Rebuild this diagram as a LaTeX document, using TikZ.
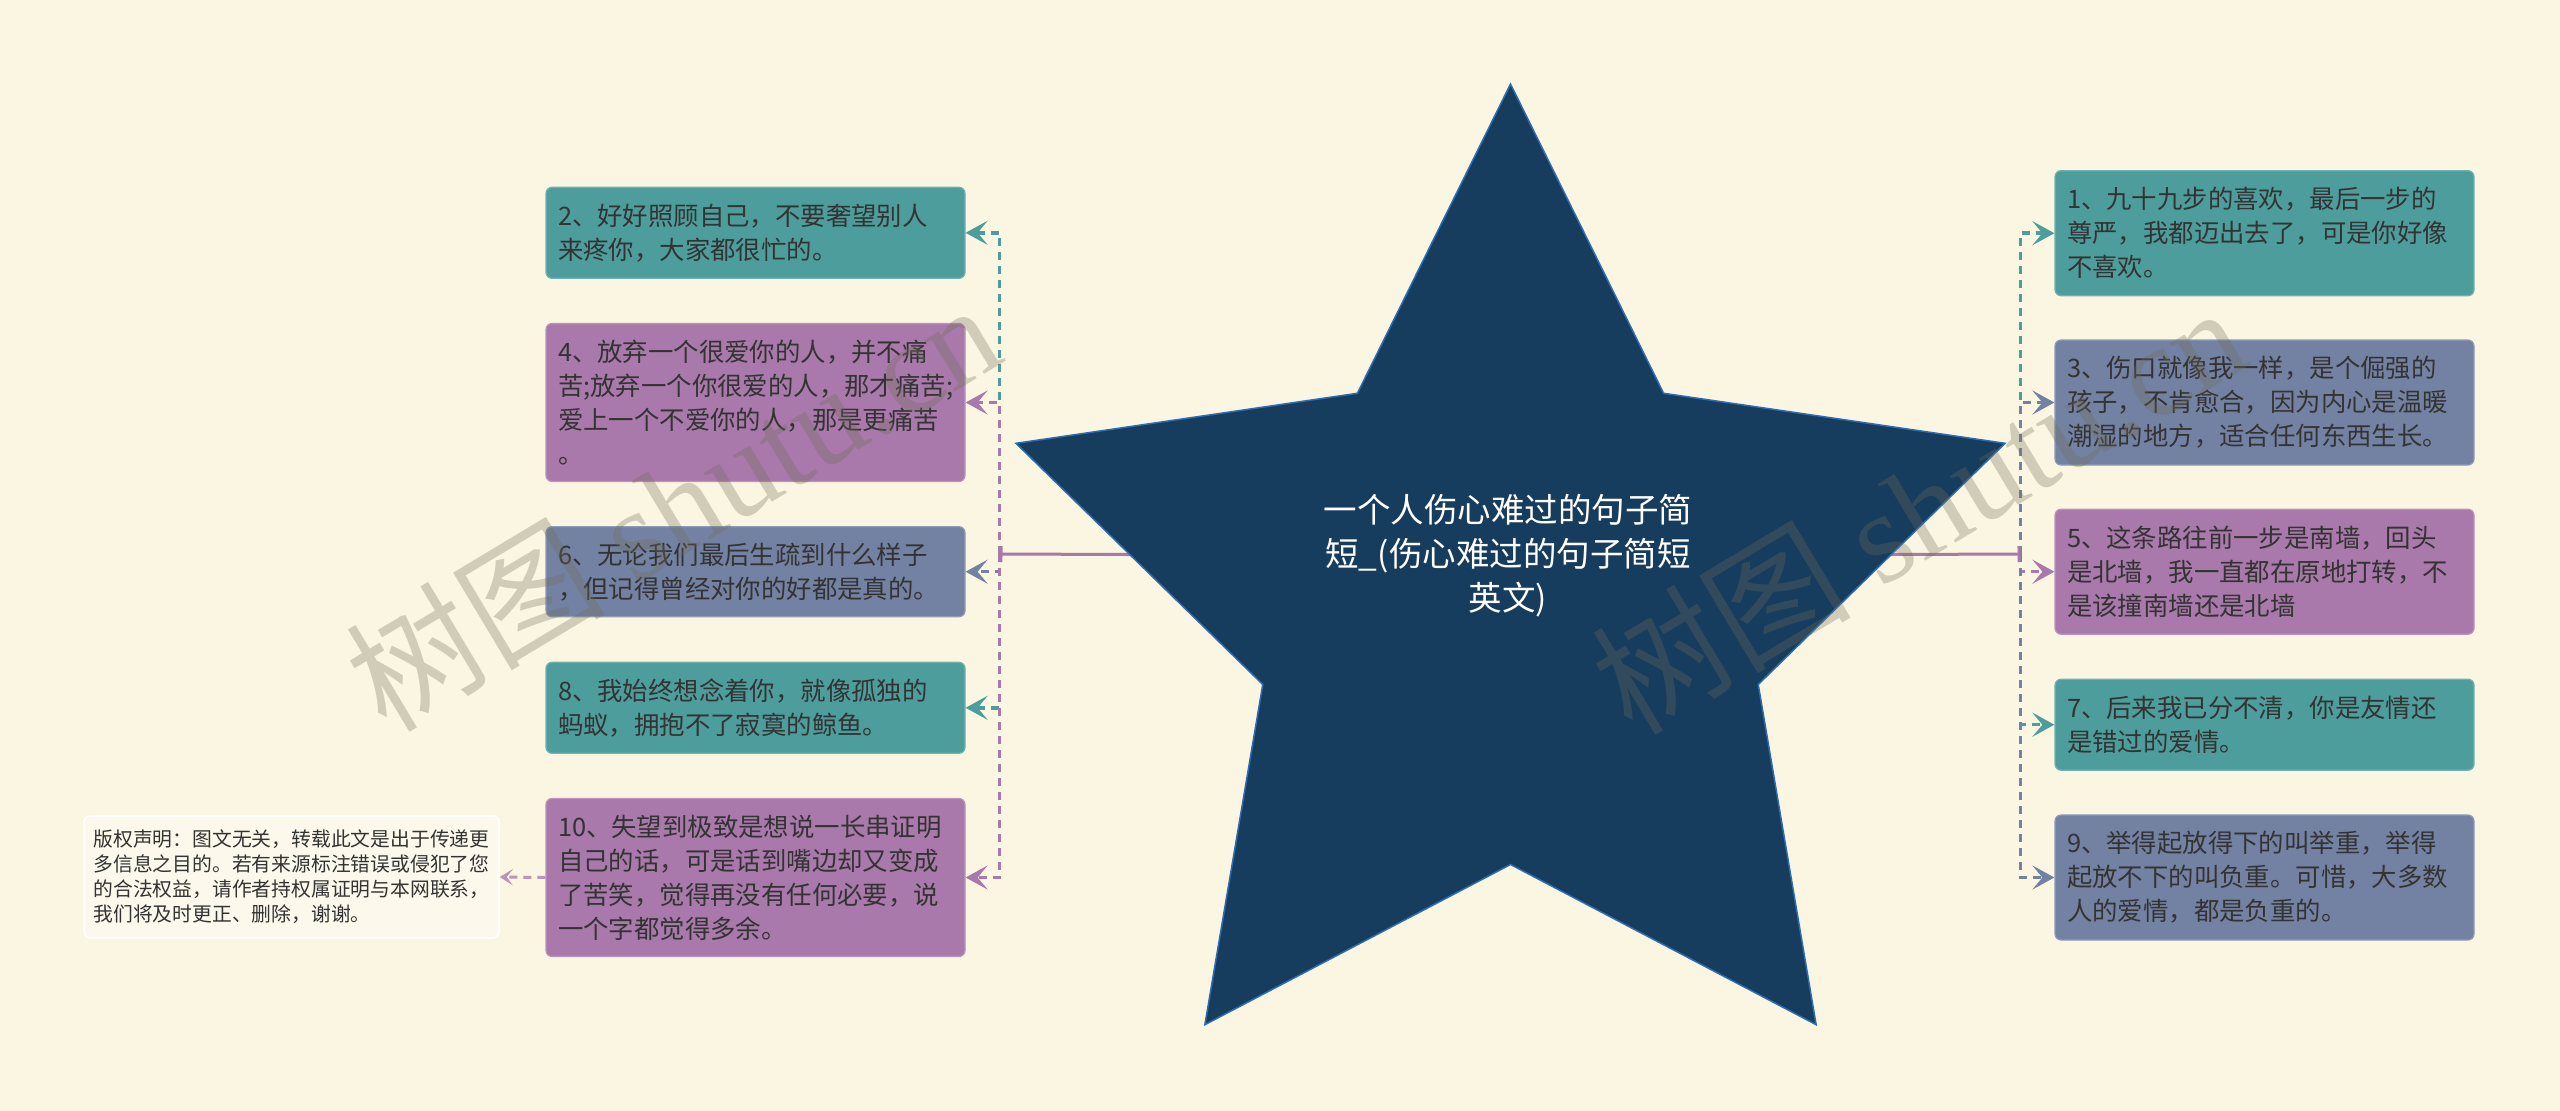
\documentclass[tikz,border=0pt]{standalone}
\usepackage{fontspec}
\setmainfont{Noto Sans CJK SC}
\newfontfamily\wmlatin{Liberation Serif}
\usetikzlibrary{arrows.meta}
\pgfdeclarelayer{back}
\pgfdeclarelayer{bg}
\pgfsetlayers{back,bg,main}
\definecolor{bgc}{HTML}{FAF6E1}
\definecolor{starc}{HTML}{173D5E}
\definecolor{starline}{HTML}{2E6DB4}
\definecolor{tealc}{HTML}{4E9D9D}
\definecolor{purpc}{HTML}{A879AA}
\definecolor{slatec}{HTML}{7382A3}
\definecolor{txtc}{HTML}{333333}
\definecolor{crfill}{HTML}{FCF9EC}
\definecolor{wmc}{HTML}{6F6C58}
\begin{document}
\begin{tikzpicture}[x=1pt,y=-1pt,
  box/.style={rounded corners=6pt, line width=1.2pt, text width=395pt,
    inner xsep=12pt, inner ysep=0pt, align=left,
    font=\fontsize{25.4}{34}\selectfont, text=txtc},
  tealbox/.style={box, fill=tealc, draw=tealc!80!white},
  purpbox/.style={box, fill=purpc, draw=purpc!80!white},
  slatebox/.style={box, fill=slatec, draw=slatec!80!white},
  conn/.style={line width=3.5pt, dash pattern=on 8pt off 6pt,
    -{Stealth[length=22pt,width=24pt,inset=10pt]}},
  mainln/.style={line width=3pt, draw=purpc, -{Bar[width=16pt]}},
  wm/.style={text=wmc, opacity=0.3, rotate=31, font=\fontsize{130}{130}\selectfont}
]
\begin{pgfonlayer}{back}
\fill[bgc] (0,0) rectangle (2560,1111);
\end{pgfonlayer}
\useasboundingbox (0,0) rectangle (2560,1111);

% central star
\filldraw[fill=starc, draw=starline, line width=1.5pt]
  (1510.5,84) -- (1663.6,393.25) -- (2005.05,443.3) -- (1758.25,684.5)
  -- (1816.15,1024.7) -- (1510.5,864.5) -- (1204.85,1024.7) -- (1262.75,684.5)
  -- (1015.95,443.3) -- (1357.4,393.25) -- cycle;
\node[align=center, text=white, font=\fontsize{33.5}{44}\selectfont] (title) at (1508,556)
  {一个人伤心难过的句子简\\短\_(伤心难过的句子简短\\英文)};

% left boxes
\node[tealbox, minimum height=91pt] (b2) at (755.5,232.8)
  {2、好好照顾自己，不要奢望别人\\来疼你，大家都很忙的。};
\node[purpbox, minimum height=158pt] (b4) at (755.5,402.5)
  {4、放弃一个很爱你的人，并不痛\\苦;放弃一个你很爱的人，那才痛苦;\\爱上一个不爱你的人，那是更痛苦\\。};
\node[slatebox, minimum height=90pt] (b6) at (755.5,571.7)
  {6、无论我们最后生疏到什么样子\\，但记得曾经对你的好都是真的。};
\node[tealbox, minimum height=91pt] (b8) at (755.5,707.8)
  {8、我始终想念着你，就像孤独的\\蚂蚁，拥抱不了寂寞的鲸鱼。};
\node[purpbox, minimum height=158pt] (b10) at (755.5,877.5)
  {10、失望到极致是想说一长串证明\\自己的话，可是话到嘴边却又变成\\了苦笑，觉得再没有任何必要，说\\一个字都觉得多余。};

% right boxes
\node[tealbox, minimum height=125pt] (b1) at (2264.5,233.2)
  {1、九十九步的喜欢，最后一步的\\尊严，我都迈出去了，可是你好像\\不喜欢。};
\node[slatebox, minimum height=125pt] (b3) at (2264.5,402.5)
  {3、伤口就像我一样，是个倔强的\\孩子，不肯愈合，因为内心是温暖\\潮湿的地方，适合任何东西生长。};
\node[purpbox, minimum height=125pt] (b5) at (2264.5,571.7)
  {5、这条路往前一步是南墙，回头\\是北墙，我一直都在原地打转，不\\是该撞南墙还是北墙};
\node[tealbox, minimum height=91pt] (b7) at (2264.5,724.7)
  {7、后来我已分不清，你是友情还\\是错过的爱情。};
\node[slatebox, minimum height=125pt] (b9) at (2264.5,877.5)
  {9、举得起放得下的叫举重，举得\\起放不下的叫负重。可惜，大多数\\人的爱情，都是负重的。};

% copyright box
\node[rounded corners=6pt, fill=crfill, draw=white, line width=1.5pt,
  text width=396pt, inner xsep=9.5pt, inner ysep=0pt, minimum height=122pt,
  align=left, text=txtc, font=\fontsize{19.8}{25}\selectfont] (cr) at (291.5,877)
  {版权声明：图文无关，转载此文是出于传递更\\多信息之目的。若有来源标注错误或侵犯了您\\的合法权益，请作者持权属证明与本网联系，\\我们将及时更正、删除，谢谢。};

\coordinate (lbus) at (999.5,554);
\coordinate (rbus) at (2020.5,554);

\begin{pgfonlayer}{bg}
\draw[conn, tealc] (lbus) |- (b2.east);
\draw[conn, purpc] (lbus) |- (b4.east);
\draw[conn, slatec] (lbus) |- (b6.east);
\draw[conn, tealc] (lbus) |- (b8.east);
\draw[conn, purpc] (lbus) |- (b10.east);
\draw[conn, tealc] (rbus) |- (b1.west);
\draw[conn, slatec] (rbus) |- (b3.west);
\draw[conn, purpc] (rbus) |- (b5.west);
\draw[conn, tealc] (rbus) |- (b7.west);
\draw[conn, slatec] (rbus) |- (b9.west);
\draw[line width=3pt, dash pattern=on 8pt off 6pt, purpc!80!white,
  -{Stealth[length=13pt,width=16pt,inset=6pt]}] (b10.west) -- (cr.east);
\draw[mainln] (title.center) -- (lbus);
\draw[mainln] (title.center) -- (rbus);
\end{pgfonlayer}

% watermarks
\node[wm] (wm1) at (672,505) {树图 {\wmlatin shutu.cn}};
\node[wm] (wm2) at (1918,508) {树图 {\wmlatin shutu.cn}};
\end{tikzpicture}
\end{document}
